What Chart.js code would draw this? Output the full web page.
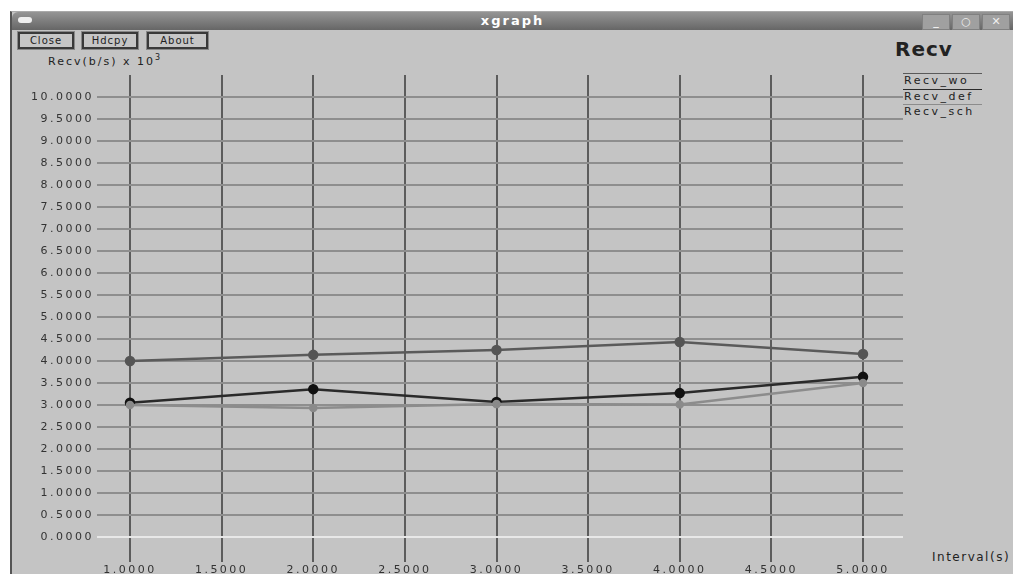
<!DOCTYPE html>
<html>
<head>
<meta charset="utf-8">
<script src="https://cdn.jsdelivr.net/npm/chart.js@4"></script>
<style>
  body { margin: 0; background: #fff; width: 1013px; height: 574px; overflow: hidden; font-family: "DejaVu Sans", sans-serif; }
  #win { position: absolute; left: 10px; top: 11px; width: 1003px; height: 563px; background: #c4c4c4; border-left: 2px solid #555; border-top: 1px solid #aaa; box-sizing: border-box; }
  #titlebar { position: absolute; left: 0; top: 0; width: 100%; height: 18px; background: linear-gradient(#959595, #666); border-top-left-radius: 6px; }
  #titlebar .name { position: absolute; left: 0; width: 100%; top: 1px; text-align: center; color: #fff; font-weight: bold; font-size: 13px; letter-spacing: 2px; }
  #titlebar .menu { position: absolute; left: 6px; top: 5px; width: 14px; height: 6px; background: #eee; border-radius: 3px; }
  .wbtn { position: absolute; top: 2px; width: 26px; height: 14px; background: #a0a0a0; border: 1px solid #808080; color: #eee; font-size: 11px; font-weight: bold; text-align: center; line-height: 14px; }
  .btn { position: absolute; top: 20px; height: 13px; border: 2px solid #3a3a3a; outline: 1px solid #888; background: #c6c6c6; font-size: 10px; line-height: 13px; text-align: center; color: #222; letter-spacing: 1px; }
  .txt { position: absolute; color: #222; white-space: nowrap; }
  #chart { position: absolute; left: 0; top: 0; }
</style>
</head>
<body>
<div id="win">
  <div id="titlebar">
    <div class="menu"></div>
    <div class="name">xgraph</div>
    <div class="wbtn" style="left:910px">_</div>
    <div class="wbtn" style="left:940px">&#9675;</div>
    <div class="wbtn" style="left:970px">&#10005;</div>
  </div>
  <div class="btn" style="left:6px;width:52px">Close</div>
  <div class="btn" style="left:70px;width:52px">Hdcpy</div>
  <div class="btn" style="left:135px;width:57px">About</div>
</div>
<div class="txt" style="left:48px;top:53px;font-size:11px;letter-spacing:2px">Recv(b/s) x 10<sup style="font-size:8px">3</sup></div>
<div class="txt" style="left:895px;top:37px;font-size:20px;font-weight:bold;letter-spacing:1px">Recv</div>
<div class="txt" style="left:932px;top:550px;font-size:12px;letter-spacing:1.5px">Interval(s)</div>
<div id="legend"></div>
<canvas id="chart" width="1013" height="574"></canvas>
<script>
// values
const intervals = [1, 2, 3, 4, 5];
const recvWo = [4.00, 4.14, 4.25, 4.43, 4.16];
const recvDef = [3.05, 3.36, 3.07, 3.27, 3.64];
const recvSch = [3.00, 2.93, 3.02, 3.01, 3.50];

const seriesNames = ["Recv_wo", "Recv_def", "Recv_sch"];
const xTicks = [1.0, 1.5, 2.0, 2.5, 3.0, 3.5, 4.0, 4.5, 5.0];
const yTicks = [0, 0.5, 1, 1.5, 2, 2.5, 3, 3.5, 4, 4.5, 5, 5.5, 6, 6.5, 7, 7.5, 8, 8.5, 9, 9.5, 10];

const colors = ["#5a5a5a", "#2a2a2a", "#8c8c8c"];
const pointColors = ["#555555", "#111111", "#8a8a8a"];

// legend like xgraph: a line above each name
const legend = document.getElementById("legend");
seriesNames.forEach((name, i) => {
    const top = 73 + i * 15.5;
    legend.innerHTML +=
        '<div style="position:absolute;left:903px;top:' + top + 'px;width:79px;height:1px;background:' + colors[i] + '"></div>' +
        '<div class="txt" style="left:904px;top:' + (top + 1) + 'px;font-size:11px;letter-spacing:2.5px">' + name + '</div>';
});

function toPoints(vals) {
    return intervals.map((x, i) => ({ x: x, y: vals[i] }));
}

const seriesVals = [recvWo, recvDef, recvSch];

// wide pixel-font look for the tick labels
const spacing = {
    id: "spacing",
    beforeInit(chart) { chart.ctx.letterSpacing = "2.5px"; },
    beforeDraw(chart) { chart.ctx.letterSpacing = "2.5px"; }
};

new Chart(document.getElementById("chart"), {
    type: "line",
    data: {
        datasets: seriesNames.map((name, i) => ({
            label: name,
            data: toPoints(seriesVals[i]),
            borderColor: colors[i],
            backgroundColor: pointColors[i],
            pointBackgroundColor: pointColors[i],
            pointBorderColor: pointColors[i],
            pointRadius: i == 2 ? 3 : 4,
            borderWidth: 2.5,
            tension: 0,
            fill: false
        })).reverse()
    },
    options: {
        responsive: false,
        animation: false,
        devicePixelRatio: 1,
        layout: { padding: { top: 75, right: 110, left: 0, bottom: 0 } },
        plugins: { legend: { display: false }, tooltip: { enabled: false } },
        scales: {
            x: {
                type: "linear",
                min: 1 - 33 / 183.25,
                max: 5 + 40 / 183.25,
                afterBuildTicks: s => { s.ticks = xTicks.map(v => ({ value: v })); },
                afterFit: s => { s.height = 12; },
                border: { display: false },
                grid: { color: "#5c5c5c", lineWidth: 2, drawTicks: false },
                ticks: {
                    padding: 2,
                    color: "#333",
                    font: { family: "DejaVu Sans", size: 11 },
                    maxRotation: 0,
                    callback: v => Number(v).toFixed(4)
                }
            },
            y: {
                min: -25 / 44,
                max: 10.5,
                afterBuildTicks: s => { s.ticks = yTicks.map(v => ({ value: v })); },
                afterFit: s => { s.width = 97; },
                border: { display: false },
                grid: {
                    color: c => (c.tick && c.tick.value === 0) ? "#e8e8e8" : "#8e8e8e",
                    lineWidth: 2,
                    drawTicks: false
                },
                ticks: {
                    padding: 3,
                    color: "#333",
                    font: { family: "DejaVu Sans", size: 11 },
                    callback: v => Number(v).toFixed(4)
                }
            }
        }
    },
    plugins: [spacing]
});
</script>
</body>
</html>
